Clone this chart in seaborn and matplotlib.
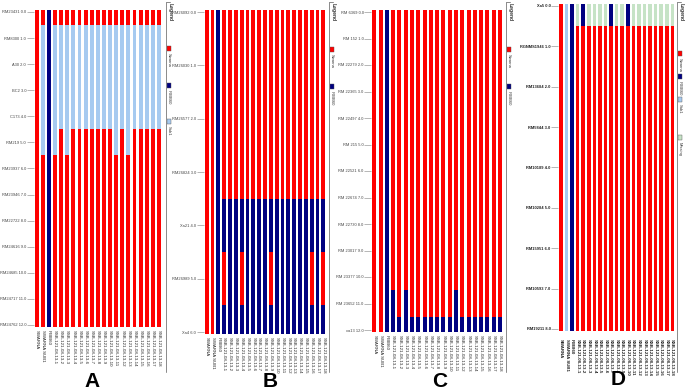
import numpy as np
import pandas as pd
import matplotlib
matplotlib.use("Agg")
import matplotlib.pyplot as plt
import seaborn as sns
from matplotlib.patches import Rectangle
from matplotlib.lines import Line2D

sns.set_theme(style="white")
plt.rcParams['font.family'] = ['Liberation Sans', 'DejaVu Sans']

# --- DATA ---
lines = ["SWARNA", "SWARNA SUB1", "IRBB60"] + ["SSB-121-08-13-%d" % i for i in range(1, 19)]

# S = Swarna (red), I = IRBB60 (navy), H = Sub1 (light blue), M = missing (light green)
palette = {"S": "#ff0000", "I": "#000080", "H": "#a6caf0", "M": "#c6e3c6"}

# A: Sub1 region
markers_a = ["RM23431", "RM8300", "A30", "BC2", "C173", "RM219", "RM23937",
             "RM23946", "RM22722", "RM24616", "RM24685", "RM24717", "RM24762"]
pos_a = [0.0, 1.0, 2.0, 3.0, 4.0, 5.0, 6.0, 7.0, 8.0, 9.0, 10.0, 11.0, 12.0]
geno_a = ["SSSSSSSSSSSSS", "SHHHHHSSSSSSS", "IIIIIIIIIIIII",
          "SHHHHHSSSSSSS", "SHHHHSSSSSSSS", "SHHHHHSSSSSSS", "SHHHHSSSSSSSS",
          "SHHHHSSSSSSSS", "SHHHHSSSSSSSS", "SHHHHSSSSSSSS", "SHHHHSSSSSSSS",
          "SHHHHSSSSSSSS", "SHHHHSSSSSSSS", "SHHHHHSSSSSSS", "SHHHHSSSSSSSS",
          "SHHHHHSSSSSSS", "SHHHHSSSSSSSS", "SHHHHSSSSSSSS", "SHHHHSSSSSSSS",
          "SHHHHSSSSSSSS", "SHHHHSSSSSSSS"]
legend_a = [("S", "Swarna"), ("I", "IRBB60"), ("H", "Sub1")]

# B: Xa21 / Xa4
markers_b = ["RM26092", "RM26030", "RM26577", "RM26824", "Xa21", "RM26989", "Xa4"]
pos_b = [0.0, 1.0, 2.0, 3.0, 4.0, 5.0, 6.0]
geno_b = ["SSSSSSS", "SSSSSSS", "IIIIIII",
          "SSSSISI", "SSSSIII", "SSSSIII", "SSSSISI", "SSSSIII", "SSSSIII",
          "SSSSIII", "SSSSIII", "SSSSISI", "SSSSIII", "SSSSIII", "SSSSIII",
          "SSSSIII", "SSSSIII", "SSSSIII", "SSSSISI", "SSSSIII", "SSSSISI"]
legend_b = [("S", "Swarna"), ("I", "IRBB60")]

# C: xa13
markers_c = ["RM 6369", "RM 152", "RM 22279", "RM 22365", "RM 22497", "RM 215",
             "RM 22521", "RM 22674", "RM 22730", "RM 23017", "RM 23377", "RM 23652", "xa13"]
pos_c = [0.0, 1.0, 2.0, 3.0, 4.0, 5.0, 6.0, 7.0, 8.0, 9.0, 10.0, 11.0, 12.0]
geno_c = ["SSSSSSSSSSSSS", "SSSSSSSSSSSSS", "IIIIIIIIIIIII",
          "SSSSSSSSSSSII", "SSSSSSSSSSSSI", "SSSSSSSSSSSII", "SSSSSSSSSSSSI",
          "SSSSSSSSSSSSI", "SSSSSSSSSSSSI", "SSSSSSSSSSSSI", "SSSSSSSSSSSSI",
          "SSSSSSSSSSSSI", "SSSSSSSSSSSSI", "SSSSSSSSSSSII", "SSSSSSSSSSSSI",
          "SSSSSSSSSSSSI", "SSSSSSSSSSSSI", "SSSSSSSSSSSSI", "SSSSSSSSSSSSI",
          "SSSSSSSSSSSSI", "SSSSSSSSSSSSI"]
legend_c = [("S", "Swarna"), ("I", "IRBB60")]

# D: xa5
markers_d = ["Xa5", "RGNMS1946", "RM13684", "RM5844", "RM10189", "RM10284",
             "RM15951", "RM10593", "RM19211"]
pos_d = [0.0, 1.0, 2.0, 3.0, 4.0, 5.0, 6.0, 7.0, 8.0]
geno_d = ["SSSSSSSSS", "HHHHHHHHH", "IIIIIIIII",
          "MSSSSSSSS", "ISSSSSSSS", "MSSSSSSSS", "MSSSSSSSS", "MSSSSSSSS",
          "MSSSSSSSS", "ISSSSSSSS", "MSSSSSSSS", "MSSSSSSSS", "ISSSSSSSS",
          "MSSSSSSSS", "MSSSSSSSS", "MSSSSSSSS", "MSSSSSSSS", "MSSSSSSSS",
          "MSSSSSSSS", "MSSSSSSSS", "MSSSSSSSS"]
legend_d = [("S", "Swarna"), ("I", "IRBB60"), ("H", "Sub1"), ("M", "Missing")]

# --- FIGURE ---
W, H = 685, 391
fig = plt.figure(figsize=(W / 100, H / 100), dpi=100)


def fx(x):
    return x / W


def fy(y):
    return 1 - y / H


def draw_panel(geno, markers, pos, legend, cols, rows, leg_x, leg_y, letter, bold=False):
    n = len(markers)
    ncol = len(geno)
    dx = (cols[1] - cols[0]) / (ncol - 1)
    dy = (rows[1] - rows[0]) / (n - 1)
    ext = 2.0 / dy
    left, right = cols[0] - dx / 2, cols[1] + dx / 2
    top, bottom = rows[0] - 3, rows[1] + 3
    ax = fig.add_axes([fx(left), fy(bottom), (right - left) / W, (bottom - top) / H])

    # run-length segments per line
    segs = []
    for j, g in enumerate(geno):
        start = 0
        for i in range(1, n + 1):
            if i == n or g[i] != g[start]:
                lo = start - 0.5 if start > 0 else -ext
                hi = i - 0.5 if i < n else n - 1 + ext
                segs.append((j, lo, hi - lo, g[start]))
                start = i
    seg = pd.DataFrame(segs, columns=["line", "bottom", "height", "code"])
    for code, grp in seg.groupby("code"):
        ax.bar(grp["line"], grp["height"], bottom=grp["bottom"], width=0.64,
               color=palette[code], linewidth=0)

    ax.set_xlim(-0.5, ncol - 0.5)
    ax.set_ylim(n - 1 + 3 / dy, -3 / dy)
    weight = "bold" if bold else "normal"
    ax.set_yticks(range(n))
    ax.set_yticklabels(["%s %.1f" % (m, p) for m, p in zip(markers, pos)],
                       fontweight=weight)
    ax.tick_params(axis="y", left=True, length=5, width=0.5, color="#9a9a9a",
                   pad=0.5, labelsize=2.9, labelcolor="#222222" if bold else "#444444")
    ax.set_xticks(range(ncol))
    ax.set_xticklabels(lines, rotation=-90, fontweight=weight)
    ax.tick_params(axis="x", bottom=False, length=0, pad=5 if bold else 1.5,
                   labelsize=3.2, labelcolor="#222222")
    for s in ax.spines.values():
        s.set_visible(False)
    ax.grid(False)

    # legend box
    fig.add_artist(Line2D([fx(leg_x), fx(leg_x)], [fy(2), fy(372)],
                          transform=fig.transFigure, color="#8a8a8a", lw=0.7))
    fig.add_artist(Line2D([fx(leg_x), fx(leg_x + 4)], [fy(2), fy(2)],
                          transform=fig.transFigure, color="#8a8a8a", lw=0.7))
    fig.text(fx(leg_x + 4.5), fy(3), "Legend", rotation=-90, ha="center", va="top",
             fontsize=3.6, fontweight="bold", color="#333333")
    for (code, name), y in zip(legend, leg_y):
        fig.add_artist(Rectangle((fx(leg_x + 0.5), fy(y + 5)), 4.5 / W, 5 / H,
                                 transform=fig.transFigure, facecolor=palette[code],
                                 edgecolor="#555555", lw=0.3))
        fig.text(fx(leg_x + 2.8), fy(y + 7), name, rotation=-90, ha="center", va="top",
                 fontsize=3.0, color="#333333")

    fig.text(fx(letter[0]), fy(letter[1]), letter[2], ha="center", va="bottom",
             fontsize=15, fontweight="bold", color="black")
    return ax


draw_panel(geno_a, markers_a, pos_a, legend_a, (36.7, 159.0), (12, 325),
           166, [46, 83, 119], (92, 391, "A"))
draw_panel(geno_b, markers_b, pos_b, legend_b, (206.7, 323.3), (12, 332),
           329, [47, 84], (270, 391, "B"))
draw_panel(geno_c, markers_c, pos_c, legend_c, (374.3, 500.0), (12, 330),
           506, [47, 84], (440, 391, "C"))
draw_panel(geno_d, markers_d, pos_d, legend_d, (561.0, 672.3), (6, 329),
           677, [51, 74, 97, 135], (618, 389, "D"), bold=True)

fig.savefig("out.png", dpi=100)
